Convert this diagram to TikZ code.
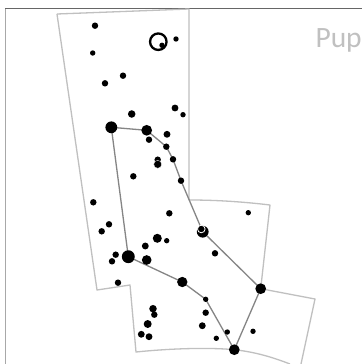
\documentclass[tikz,border=0pt]{standalone}
\usepackage{fontspec}
\setmainfont{Carlito}
\usetikzlibrary{backgrounds}
\definecolor{bnd}{HTML}{C0C0C0}
\definecolor{fig}{HTML}{858585}
\definecolor{topf}{HTML}{666666}
\definecolor{leftf}{HTML}{A8A8A8}
\tikzset{
  x=1pt,y=-1pt,
  st/.style={circle,fill=black,inner sep=0pt,minimum size=#1*2.15pt},
  bound/.style={draw=bnd,line width=1.3pt,line join=round},
  figline/.style={draw=fig,line width=1.3pt,line join=round},
  lbl/.style={text=bnd,font=\fontsize{29.5}{30}\selectfont,anchor=base west,inner sep=0pt}
}
\begin{document}
\begin{tikzpicture}
\useasboundingbox (0,0) rectangle (362,364);
% stars on the figure
\node[st=5.5] (s1) at (111.3,127.3) {};
\node[st=5] (s2) at (146.7,130.3) {};
\node[st=3] (s3) at (166.3,146.7) {};
\node[st=3] (s4) at (173,159.3) {};
\node[st=3] (s5) at (181,180.7) {};
\node[st=5.5] (s6) at (202.7,231.7) {};
\node[st=5] (s7) at (260.7,288.7) {};
\node[st=5] (s8) at (234.3,349.7) {};
\node[st=2.5] (s9) at (205.7,299.3) {};
\node[st=4.8] (s10) at (182.3,282) {};
\node[st=6] (s11) at (128.3,256.7) {};
\begin{scope}[on background layer]
\fill[white] (0,0) rectangle (362,364);
\draw[leftf,line width=1.5pt] (5.5,8) -- (5.5,364);
\draw[topf,line width=1.1pt] (5,8.3) -- (362,8.3);
\draw[bound] (57,14) -- (189,9) -- (189,200)
  .. controls (218,200) and (245,202) .. (270,205) -- (260.7,288.7)
  -- (315,299) -- (301,364);
\draw[bound] (57,14) -- (97,290) -- (130,285) -- (136,352)
  .. controls (165,349) and (205,347) .. (234.3,349.7)
  .. controls (255,352) and (272,357) .. (290,364);
\draw[figline] (s1.center) -- (s2.center) -- (s3.center) -- (s4.center) -- (s5.center) -- (s6.center) -- (s7.center) -- (s8.center) -- (s9.center) -- (s10.center) -- (s11.center) -- (s1.center);
\end{scope}
% double star detail
\node[circle,draw=white,fill=black,line width=0.8pt,inner sep=0pt,minimum size=7.6pt] (s6c) at (201.3,229) {};
% variable star ring
\node[circle,draw=black,line width=2.3pt,inner sep=0pt,minimum size=16.5pt] (ring) at (158.3,41.7) {};
\node[st=2.5] (ringdot) at (162,45.3) {};
% remaining stars
\node[st=3] (a1) at (95,25.7) {};
\node[st=2.5] (a2) at (176,39) {};
\node[st=2.5] (a3) at (92.7,53) {};
\node[st=3] (a4) at (123,75.7) {};
\node[st=3] (a5) at (105,83.3) {};
\node[st=3.5] (a6) at (131.7,114) {};
\node[st=3.2] (a7) at (175,108) {};
\node[st=2.5] (a8) at (183,114.7) {};
\node[st=3.2] (a9) at (167,134.3) {};
\node[st=3] (a10) at (149,139.7) {};
\node[st=3] (a11) at (157.7,159.7) {};
\node[st=3.7,draw=white,line width=0.3pt] (a12) at (157.7,164.3) {};
\node[st=3] (a13) at (133.3,176.3) {};
\node[st=3] (a14) at (169.3,213.3) {};
\node[st=3] (a15) at (93.3,202.3) {};
\node[st=3] (a16) at (109,224.3) {};
\node[st=3] (a17) at (101.7,231.3) {};
\node[st=4.2] (a18) at (157.3,238.3) {};
\node[st=2.5] (a19) at (166.7,240.7) {};
\node[st=3.2] (a20) at (145.3,246) {};
\node[st=3] (a21) at (115.7,254.7) {};
\node[st=3] (a22) at (112,261.3) {};
\node[st=4.5] (a23) at (146.7,260) {};
\node[st=3] (a24) at (118,282.7) {};
\node[st=3.5] (a25) at (153,308.7) {};
\node[st=3] (a26) at (154.3,314.7) {};
\node[st=3.7] (a27) at (147.7,324) {};
\node[st=3.2] (a28) at (141.3,334.3) {};
\node[st=3.2] (a29) at (149,336.7) {};
\node[st=2.5] (a30) at (248.3,212.7) {};
\node[st=3] (a31) at (215,253.3) {};
\node[st=3] (a32) at (205.7,312.7) {};
\node[st=3.2] (a33) at (202.3,325.7) {};
\node[st=2.5] (a34) at (216.3,338.3) {};
\node[st=2.5] (a35) at (227.3,332) {};
\node[st=2.5] (a36) at (253,331.3) {};
\node[lbl] (name) at (315.3,47.5) {Pup};
\end{tikzpicture}
\end{document}
